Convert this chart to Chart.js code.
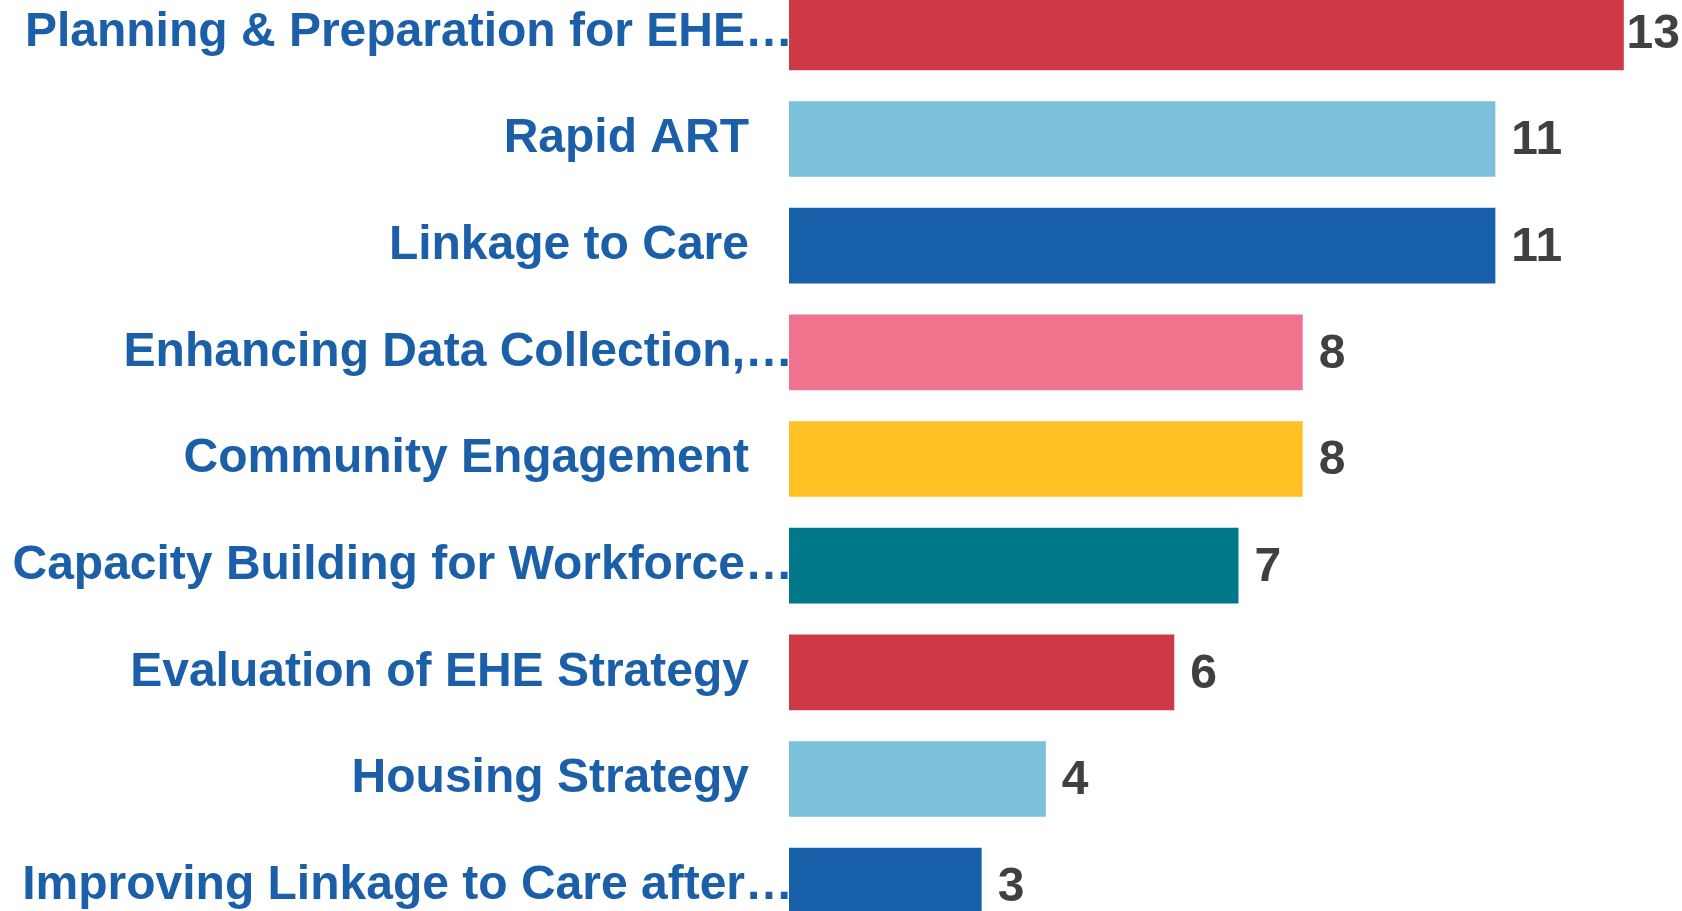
<!DOCTYPE html>
<html>
<head>
<meta charset="utf-8">
<script src="https://cdn.jsdelivr.net/npm/chart.js@4/dist/chart.umd.min.js"></script>
<style>
  html, body { margin: 0; padding: 0; background: #ffffff; overflow: hidden; width: 1682px; height: 911px; }
  #wrap { position: absolute; left: 0; top: -21px; width: 1688px; height: 960px; }
</style>
</head>
<body>
<div id="wrap"><canvas id="c" width="1688" height="960"></canvas></div>
<script>
const categories = [
  "Planning & Preparation for EHE\u2026",
  "Rapid ART",
  "Linkage to Care",
  "Enhancing Data Collection,\u2026",
  "Community Engagement",
  "Capacity Building for Workforce\u2026",
  "Evaluation of EHE Strategy",
  "Housing Strategy",
  "Improving Linkage to Care after\u2026"
];
const values = [13, 11, 11, 8, 8, 7, 6, 4, 3];
const barColors = ["#CD3A46", "#7BC1DA", "#1861AA", "#F0738D", "#FFC124", "#01788A", "#CD3A46", "#7BC1DA", "#1861AA"];

const FONT = "Liberation Sans, Arial, sans-serif";

const valueLabels = {
  id: "valueLabels",
  afterDatasetsDraw(chart) {
    const ctx = chart.ctx;
    const meta = chart.getDatasetMeta(0);
    ctx.save();
    ctx.font = "bold 48px " + FONT;
    ctx.fillStyle = "#404040";
    ctx.textAlign = "left";
    ctx.textBaseline = "middle";
    meta.data.forEach((bar, i) => {
      const txt = String(values[i]);
      const w = ctx.measureText(txt).width;
      let x = bar.x + 16;
      const limit = 1680;
      if (x + w > limit) x = limit - w;
      ctx.fillText(txt, x, bar.y + 2);
    });
    ctx.restore();
  }
};

new Chart(document.getElementById("c"), {
  type: "bar",
  data: {
    labels: categories,
    datasets: [{
      data: values,
      backgroundColor: barColors,
      borderWidth: 0,
      categoryPercentage: 1.0,
      barPercentage: 0.71
    }]
  },
  options: {
    indexAxis: "y",
    responsive: false,
    animation: false,
    events: [],
    layout: { padding: 0 },
    plugins: { legend: { display: false }, tooltip: { enabled: false } },
    scales: {
      x: {
        display: false,
        min: 0,
        max: 14
      },
      y: {
        grid: { display: false, drawTicks: false },
        border: { display: false },
        afterFit(scale) {
          scale.width = 789;
          scale.paddingTop = 0;
          scale.paddingBottom = 0;
        },
        ticks: {
          autoSkip: false,
          padding: -4,
          color: "#1A5FA8",
          font: { family: FONT, size: 48, weight: "bold" },
          callback(value, index) {
            const l = categories[index];
            return l.endsWith("\u2026") ? l : l + "   \u200A";
          }
        }
      }
    }
  },
  plugins: [valueLabels]
});
</script>
</body>
</html>
